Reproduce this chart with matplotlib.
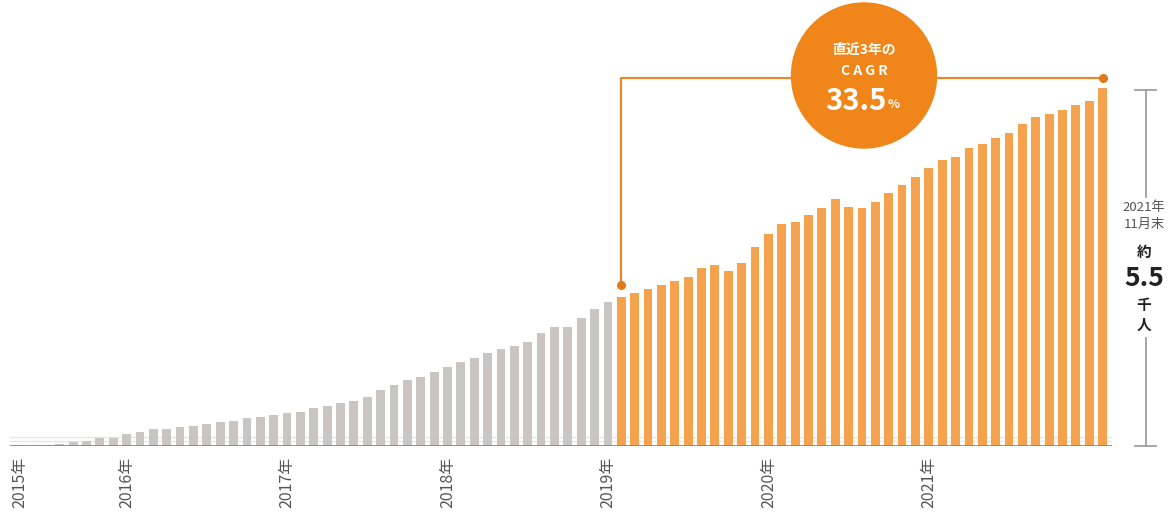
import matplotlib
matplotlib.use("Agg")
import matplotlib.pyplot as plt
from matplotlib.patches import Ellipse
from matplotlib.lines import Line2D

plt.rcParams['font.family'] = ['Noto Sans CJK JP', 'DejaVu Sans']

# monthly member counts (people)
values = [15, 18, 22, 30, 66, 77, 128, 128, 180, 220, 261, 261,
          297, 312, 334, 374, 389, 426, 441, 477, 503, 527, 580, 615,
          657, 692, 749, 861, 938, 1015, 1066, 1142, 1219, 1296, 1358, 1435,
          1487, 1542, 1604, 1742, 1825, 1825, 1964, 2102, 2210,
          2296, 2348, 2409, 2476, 2537, 2594, 2732, 2783, 2691, 2818, 3064, 3260,
          3413, 3449, 3549, 3656, 3793, 3680, 3659, 3759, 3892, 4013, 4141, 4270,
          4402, 4444, 4577, 4636, 4731, 4820, 4956, 5054, 5109, 5166, 5248, 5308, 5500]
first_cagr = 45          # first bar of the last-3-years period
year_pos = [0, 8, 20, 32, 44, 56, 68]
year_labels = ['2015年', '2016年', '2017年', '2018年', '2019年', '2020年', '2021年']
cagr_text = '33.5'

W, H = 1174, 515
GRAY = '#C9C5C2'
ORANGE = '#F5A24F'
DEEP = '#F0861A'

fig = plt.figure(figsize=(W / 100, H / 100), dpi=100)
ax = fig.add_axes([10 / W, 69 / H, 1102 / W, 446 / H])

x = list(range(len(values)))
colors = [GRAY if i < first_cagr else ORANGE for i in x]
ax.bar(x, values, width=0.66, color=colors, zorder=2)

ax.set_xlim(-0.72, 81.7)
ax.set_ylim(0, 446 * 5500 / 357.7)
for s in ax.spines.values():
    s.set_visible(False)
ax.set_yticks([])
ax.set_xticks(year_pos)
ax.set_xticklabels(year_labels, rotation=90, fontsize=11.5, color='#555555')
ax.tick_params(axis='x', length=0, pad=8)

# baseline + faint guide lines
ax.axhline(0, color='#8a8a8a', lw=1.3, zorder=3)
ax.axhline(77, color='#e6e6e6', lw=1, zorder=1)
ax.axhline(138, color='#e6e6e6', lw=1, zorder=1)

# CAGR connector
y_dot = values[first_cagr] + 180
y_top = 5660
last = len(values) - 1
ax.plot([first_cagr, first_cagr, last], [y_dot, y_top, y_top], color='#E8872C',
        lw=1.6, clip_on=False, zorder=4)
ax.plot([first_cagr, last], [y_dot, y_top], 'o', color='#E27A1A', ms=5.5,
        clip_on=False, zorder=5)

# circle badge
cx, cy, r = 864, 75.5, 72.5
fig.add_artist(Ellipse((cx / W, 1 - cy / H), 2 * r / W, 2 * r / H,
                       transform=fig.transFigure, color=DEEP, zorder=10))
fig.text(cx / W, 1 - 50 / H, '直近3年の', ha='center', va='center', color='white',
         fontsize=10, fontweight='bold', zorder=11)
fig.text(cx / W, 1 - 71 / H, 'C A G R', ha='center', va='center', color='white',
         fontsize=10, fontweight='bold', zorder=11)
fig.text(856 / W, 1 - 101 / H, cagr_text, ha='center', va='center', color='white',
         fontsize=21, fontweight='bold', zorder=11)
fig.text(894 / W, 1 - 104 / H, '%', ha='center', va='center', color='white',
         fontsize=9, fontweight='bold', zorder=11)

# right bracket
bx = 1145.7
for seg in [(90, 197), (338, 446)]:
    fig.add_artist(Line2D([bx / W, bx / W], [1 - seg[0] / H, 1 - seg[1] / H],
                          color='#a0a0a0', lw=1.3))
for yy in (90, 446):
    fig.add_artist(Line2D([1135 / W, 1156 / W], [1 - yy / H, 1 - yy / H],
                          color='#a0a0a0', lw=1.3))

tx = 1144 / W
fig.text(tx, 1 - 207 / H, '2021年', ha='center', va='center', fontsize=9.5, color='#555555')
fig.text(tx, 1 - 224 / H, '11月末', ha='center', va='center', fontsize=9.5, color='#555555')
fig.text(tx, 1 - 252 / H, '約', ha='center', va='center', fontsize=10.5, fontweight='bold', color='#222222')
fig.text(tx, 1 - 278 / H, '5.5', ha='center', va='center', fontsize=19, fontweight='bold', color='#222222')
fig.text(tx, 1 - 305 / H, '千', ha='center', va='center', fontsize=10.5, fontweight='bold', color='#222222')
fig.text(tx, 1 - 325 / H, '人', ha='center', va='center', fontsize=10.5, fontweight='bold', color='#222222')

fig.savefig('out.png', dpi=100, facecolor='white')
